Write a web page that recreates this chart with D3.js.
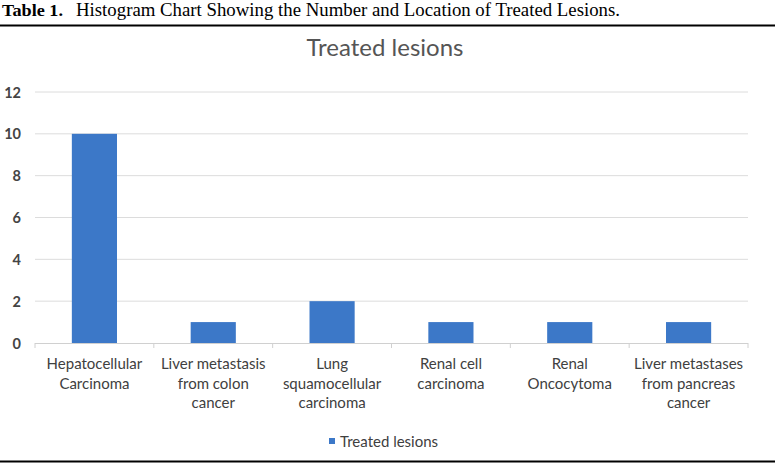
<!DOCTYPE html>
<html><head><meta charset="utf-8">
<script src="https://cdn.jsdelivr.net/npm/d3@7"></script>
<style>body{margin:0;background:#fff}svg{display:block}</style>
</head><body>
<script>
const categories = [
  ["Hepatocellular","Carcinoma"],
  ["Liver metastasis","from colon","cancer"],
  ["Lung","squamocellular","carcinoma"],
  ["Renal cell","carcinoma"],
  ["Renal","Oncocytoma"],
  ["Liver metastases","from pancreas","cancer"]
];
const values = [10, 1, 2, 1, 1, 1];
const yTicks = [0, 2, 4, 6, 8, 10, 12];
const seriesName = "Treated lesions";
const chartTitle = "Treated lesions";

const W = 775, H = 463;
const svg = d3.select("body").append("svg").attr("width", W).attr("height", H);

// caption
const serif = "Liberation Serif, Times New Roman, serif";
svg.append("text").attr("x", 2).attr("y", 16).attr("font-family", serif).attr("font-size", 17)
  .attr("font-weight", "bold").attr("fill", "#000").attr("textLength", 61).attr("lengthAdjust", "spacingAndGlyphs").text("Table 1.");
svg.append("text").attr("x", 76).attr("y", 16).attr("font-family", serif).attr("font-size", 18)
  .attr("fill", "#000").attr("textLength", 544).attr("lengthAdjust", "spacingAndGlyphs")
  .text("Histogram Chart Showing the Number and Location of Treated Lesions.");
svg.append("line").attr("x1", 0).attr("x2", W).attr("y1", 25.5).attr("y2", 25.5).attr("stroke", "#000").attr("stroke-width", 2);
svg.append("line").attr("x1", 0).attr("x2", W).attr("y1", 461.5).attr("y2", 461.5).attr("stroke", "#000").attr("stroke-width", 2);

const font = "Lato, 'Open Sans', sans-serif";
svg.append("text").attr("x", 385).attr("y", 56).attr("text-anchor", "middle")
  .attr("font-family", font).attr("font-size", 24).attr("fill", "#555").text(chartTitle);

const x0 = 35, x1 = 748, yTop = 92, yBot = 343;
const x = d3.scaleBand().domain(d3.range(categories.length)).range([x0, x1]).paddingInner(0.62).paddingOuter(0.31);
const y = d3.scaleLinear().domain([0, 12]).range([yBot, yTop]);

// gridlines
svg.append("g").selectAll("line").data(yTicks.filter(d => d > 0)).join("line")
  .attr("x1", x0).attr("x2", x1).attr("y1", d => y(d)).attr("y2", d => y(d))
  .attr("stroke", "#dcdcdc").attr("stroke-width", 1);

// y axis labels
const yAxis = d3.axisLeft(y).tickValues(yTicks).tickSize(0).tickPadding(0);
const gy = svg.append("g").attr("transform", `translate(21,0)`).call(yAxis);
gy.select(".domain").remove();
gy.selectAll("text").attr("font-family", font).attr("font-size", 14.5).attr("font-weight", "bold").attr("fill", "#444").attr("dy", "0.35em");

// bars
svg.append("g").selectAll("rect").data(values).join("rect")
  .attr("x", (d, i) => x(i)).attr("width", x.bandwidth())
  .attr("y", d => y(d)).attr("height", d => y(0) - y(d))
  .attr("fill", "#3c78c8");

// x axis line and ticks
const xb = d3.scaleLinear().domain([0, categories.length]).range([x0, x1]);
svg.append("line").attr("x1", x0).attr("x2", x1).attr("y1", yBot + 0.5).attr("y2", yBot + 0.5).attr("stroke", "#d0d0d0");
svg.append("g").selectAll("line").data(d3.range(categories.length + 1)).join("line")
  .attr("x1", d => xb(d)).attr("x2", d => xb(d)).attr("y1", yBot).attr("y2", yBot + 5).attr("stroke", "#d0d0d0");

// category labels
const lab = svg.append("g").selectAll("text").data(categories).join("text")
  .attr("x", (d, i) => x(i) + x.bandwidth() / 2).attr("y", 369)
  .attr("text-anchor", "middle").attr("font-family", font).attr("font-size", 15).attr("fill", "#404040");
lab.selectAll("tspan").data(d => d).join("tspan")
  .attr("x", function() { return this.parentNode.getAttribute("x"); })
  .attr("dy", (d, i) => i === 0 ? 0 : 19.5).text(d => d);

// legend
svg.append("rect").attr("x", 329).attr("y", 438).attr("width", 6).attr("height", 6).attr("fill", "#3c78c8");
svg.append("text").attr("x", 340).attr("y", 446.5).attr("font-family", font).attr("font-size", 15).attr("fill", "#404040").text(seriesName);
</script>
</body></html>
